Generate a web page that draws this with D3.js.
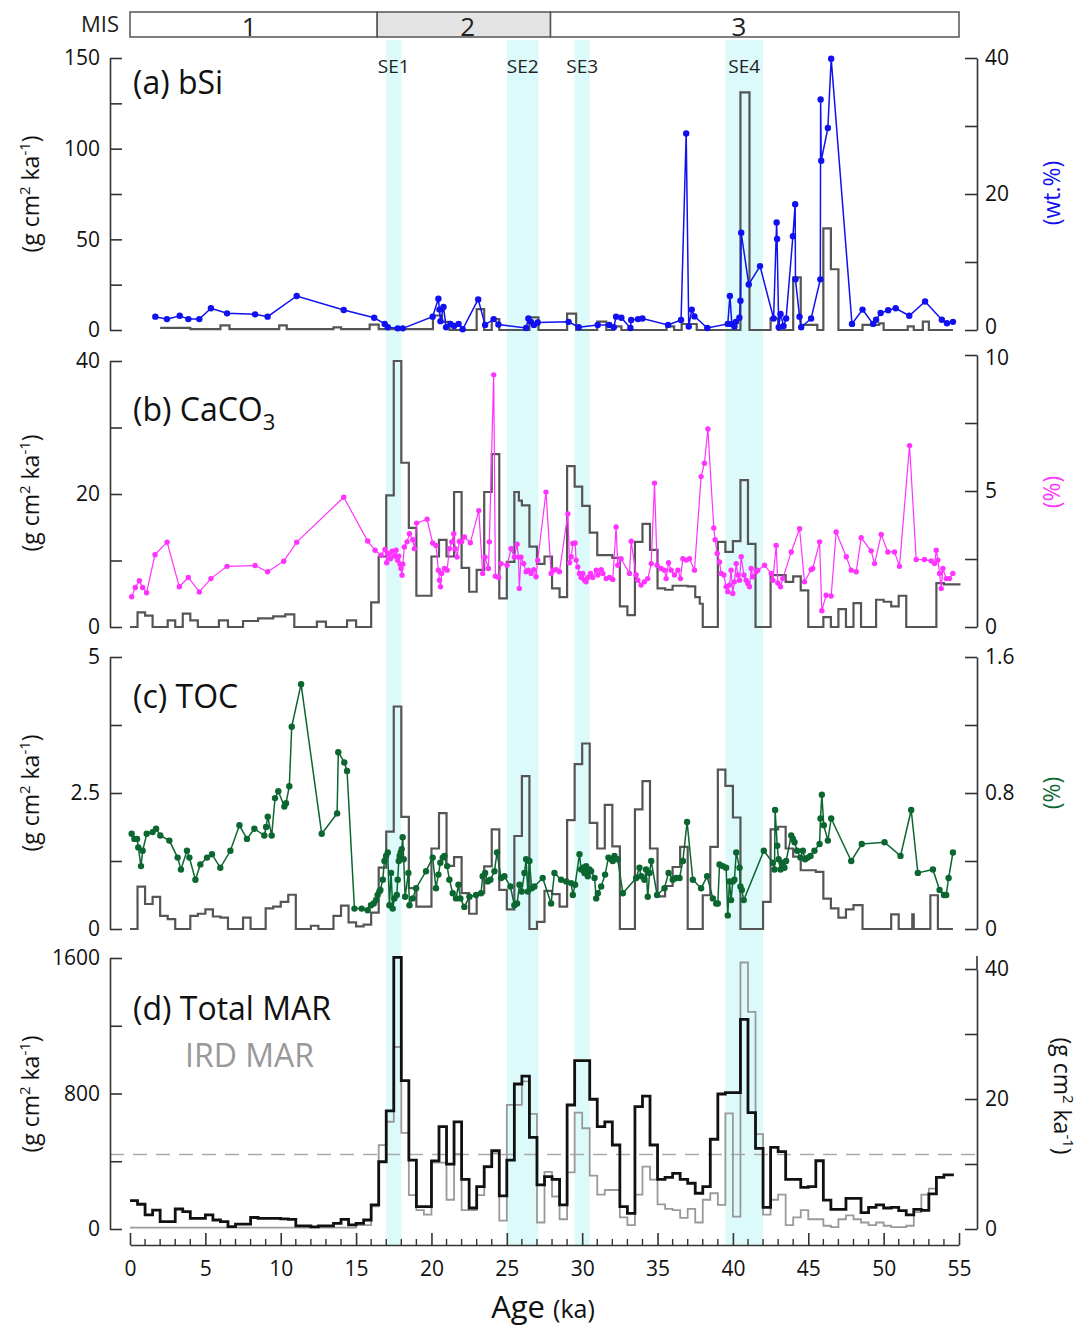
<!DOCTYPE html>
<html>
<head>
<meta charset="utf-8">
<script src="https://cdn.jsdelivr.net/npm/d3@7"></script>
<style>
body { margin: 0; background: #fff; }
text { font-family: "Open Sans", sans-serif; }
</style>
</head>
<body>
<svg id="chart" width="1088" height="1330"></svg>
<script>
// ---- data (age in ka) ----
// stage, start, end, where the number sits
var misStages = [["1", 0, 16.4, 7.9], ["2", 16.4, 27.9, 22.4], ["3", 27.9, 55, 40.4]]
var seEvents = [["SE1", 17.0, 18.0], ["SE2", 25.0, 27.1], ["SE3", 29.5, 30.5], ["SE4", 39.5, 42.0]]

var ageTicks = [0, 5, 10, 15, 20, 25, 30, 35, 40, 45, 50, 55]

// (a) bSi
var bsiMar = [[2.0,1.2],[4.0,0.5],[6.0,2.5],[6.6,0.5],[9.9,2.5],[10.4,0.5],[13.5,1.5],[14.0,0.5],[15.9,3],[16.5,0.5],[20.1,8],[20.7,4.5],[21.2,0],[23.0,11.5],[23.5,0],[24.0,6],[24.5,0],[26.5,7],[27.1,0],[29.0,9],[29.6,0],[31.0,4.6],[31.6,0],[32.1,2],[32.6,0],[35.6,2],[36.1,0],[36.6,3.3],[37.6,0],[40.5,131],[41.1,0],[42.5,6.4],[43.0,0],[44.0,29],[44.5,2.8],[45.6,0],[46.0,56],[46.5,33.5],[47.0,0],[48.6,2.8],[49.7,3.7],[50.0,0],[51.6,2],[52.0,0],[52.6,4.6],[53.0,0],[54.6,0]]
var bsiPct = [[1.68,1.96],[2.45,1.6],[3.3,2.1],[3.87,1.6],[4.6,1.6],[5.37,3.2],[6.44,2.45],[8.3,2.3],[9.13,1.96],[11.06,5.0],[14.18,2.94],[16.2,1.8],[16.9,0.9],[17.1,0.4],[17.76,0.24],[18.1,0.24],[20.08,1.96],[20.46,4.6],[20.53,3.0],[20.6,1.3],[20.8,3.4],[20.97,0.4],[21.26,0.9],[21.5,0.6],[21.8,0.9],[22.07,0.1],[23.1,4.5],[23.56,0.75],[24.13,1.6],[24.44,0.8],[26.28,0.3],[26.43,1.7],[26.6,1.2],[26.8,0.75],[27.05,1.1],[29.1,1.2],[29.77,0.4],[31.03,0.75],[31.8,0.73],[32.1,0.4],[32.25,1.96],[32.6,1.8],[33.2,0.3],[33.25,1.47],[33.7,1.6],[34.0,1.7],[35.7,0.75],[36.56,1.47],[36.9,28.9],[37.07,0.5],[37.27,3.0],[37.45,2.0],[38.3,0.3],[39.66,0.9],[39.8,5.0],[39.93,0.9],[40.1,0.5],[40.2,1.2],[40.43,1.8],[40.5,4.3],[40.55,14.3],[41.05,6.7],[41.8,9.4],[42.7,1.7],[42.9,15.8],[42.93,13.4],[43.04,0.4],[43.16,2.35],[43.36,0.6],[43.53,1.7],[43.98,13.8],[44.13,18.5],[44.15,7.45],[44.42,1.96],[44.53,0.4],[45.19,1.7],[45.8,7.45],[45.82,33.9],[45.86,24.9],[46.3,29.7],[46.52,39.9],[47.9,0.9],[48.6,3.0],[49.3,0.9],[49.5,1.5],[49.8,2.5],[50.3,2.9],[50.8,3.2],[51.7,2.1],[52.75,4.2],[53.86,1.5],[54.2,1.0],[54.6,1.2]]

// (b) CaCO3
var caco3Mar = [[0,0],[0.5,2.2],[1.0,1.7],[1.5,0],[2.5,1],[3.0,0],[3.5,2],[4.0,1],[4.5,0],[5.9,1],[6.5,0],[7.5,0.9],[8.5,1.3],[9.5,1.6],[10.3,1.9],[10.9,0],[12.4,0.8],[13.0,0],[14.4,1],[15.0,0],[16.0,3.7],[16.5,10.6],[17.0,19.8],[17.5,40],[18.0,24.7],[18.5,14.9],[19.0,4.7],[20.0,10.6],[20.5,13.1],[21.0,10.6],[21.5,20.3],[22.0,8.9],[22.5,5.3],[23.0,8.6],[23.5,20.3],[24.0,26],[24.5,4.3],[25.0,9.8],[25.5,20.3],[25.8,19],[26.0,18.3],[26.5,12.1],[27.0,9.5],[27.5,10.6],[28.0,5.8],[28.5,4.5],[29.0,24.2],[29.5,21.1],[30.0,18.2],[30.5,14.2],[31.0,10.8],[32.0,10.4],[32.5,3.1],[33.0,1.8],[33.5,12.8],[34.0,15.5],[34.5,11.6],[35.0,5.8],[35.5,5.6],[36.0,6.2],[37.0,6.1],[37.5,4.5],[37.8,3.5],[38.0,0],[39.0,12.8],[39.5,11.3],[40.0,12.9],[40.5,22.1],[41.0,12.5],[41.5,0],[42.5,7.8],[43.5,6.8],[44.0,7.6],[44.5,5.5],[45.0,0],[46.0,1.5],[46.5,0],[47.0,2.7],[47.5,0],[48.0,3.6],[48.5,0],[49.5,4.1],[50.0,3.8],[50.5,3.1],[51.0,4.7],[51.5,0],[53.5,6.6],[54.0,6.4],[55.1,6.4]]
var caco3Pct = [[0.11,1.11],[0.35,1.45],[0.62,1.7],[0.84,1.45],[1.1,1.26],[1.66,2.66],[2.46,3.12],[3.27,1.48],[3.87,1.82],[4.6,1.29],[5.37,1.78],[6.44,2.23],[8.3,2.26],[9.13,2.03],[10.2,2.42],[11.06,3.12],[14.18,4.77],[15.77,3.16],[16.26,2.82],[16.66,2.64],[16.92,2.85],[17.03,2.36],[17.14,2.70],[17.27,2.51],[17.39,2.79],[17.54,2.60],[17.65,2.82],[17.76,2.45],[17.83,2.60],[17.92,2.31],[17.98,2.15],[18.05,1.90],[18.1,2.31],[18.2,2.94],[18.38,3.13],[18.54,3.43],[18.76,3.21],[18.87,2.88],[19.02,3.82],[19.71,3.96],[20.08,3.09],[20.3,3.0],[20.46,2.09],[20.53,1.72],[20.6,1.48],[20.68,1.97],[20.86,2.15],[21.04,2.09],[21.19,2.88],[21.35,3.13],[21.48,3.43],[21.57,2.88],[21.7,2.57],[21.85,3.15],[22.0,3.13],[22.19,3.31],[22.58,3.10],[23.14,4.28],[23.4,1.97],[23.56,2.57],[23.78,2.15],[23.84,3.13],[24.13,9.27],[24.24,1.87],[24.46,1.82],[24.62,2.33],[25.02,2.27],[25.28,2.88],[25.5,2.57],[25.68,3.04],[25.77,2.57],[25.83,1.42],[25.94,2.57],[26.12,2.33],[26.28,2.03],[26.43,2.09],[26.61,1.97],[26.79,2.11],[26.94,1.85],[27.05,2.45],[27.6,4.96],[27.94,1.97],[28.1,2.09],[28.27,2.11],[28.49,2.03],[29.05,4.16],[29.16,2.36],[29.27,2.58],[29.38,3.07],[29.53,3.09],[29.6,2.46],[29.71,2.21],[29.82,1.97],[29.93,1.82],[30.04,1.97],[30.15,1.72],[30.26,1.66],[30.37,1.82],[30.55,1.97],[30.7,1.82],[30.93,2.09],[31.04,1.91],[31.26,2.11],[31.37,1.97],[31.59,1.78],[31.81,1.82],[32.03,1.75],[32.25,3.68],[32.36,2.27],[32.58,2.51],[33.14,1.97],[33.25,3.15],[33.58,1.91],[33.69,1.72],[33.91,1.54],[34.13,1.66],[34.35,1.78],[34.58,2.33],[34.8,5.29],[34.97,2.27],[35.24,2.15],[35.46,2.09],[35.57,1.78],[35.73,2.36],[35.9,2.09],[36.12,1.91],[36.35,2.09],[36.52,1.78],[36.68,2.51],[36.9,2.46],[37.12,2.51],[37.45,2.09],[37.89,5.53],[38.11,6.02],[38.34,7.28],[38.73,3.64],[38.82,3.21],[38.96,2.70],[39.11,2.39],[39.22,1.97],[39.4,1.91],[39.55,1.48],[39.66,1.30],[39.77,1.54],[39.88,2.09],[39.99,1.23],[40.1,1.66],[40.22,2.33],[40.33,1.91],[40.44,1.72],[40.55,2.58],[40.73,1.91],[40.88,1.72],[40.99,1.60],[41.1,1.48],[41.21,2.15],[41.32,1.85],[41.54,2.03],[41.65,2.09],[42.1,2.27],[42.54,1.97],[42.65,1.72],[42.87,3.0],[42.98,1.62],[43.16,1.48],[43.31,1.78],[43.87,2.76],[44.42,3.61],[44.75,1.66],[45.19,2.11],[45.3,2.15],[45.75,3.13],[45.9,0.60],[46.19,1.17],[46.52,1.14],[46.85,3.49],[47.52,2.58],[47.85,2.09],[48.18,2.03],[48.51,3.28],[49.17,2.80],[49.4,2.33],[49.84,3.40],[50.28,2.76],[50.72,2.76],[51.05,2.23],[51.72,6.67],[52.16,2.48],[52.71,2.48],[53.16,2.43],[53.38,2.33],[53.49,2.82],[53.6,2.46],[53.71,1.97],[53.82,1.42],[53.93,2.15],[54.15,1.78],[54.37,1.78],[54.59,1.97]]

// (c) TOC
var tocMar = [[0,0],[0.5,0.78],[1.0,0.46],[1.5,0.59],[2.0,0.24],[2.5,0.18],[3.0,0],[4.0,0.24],[4.5,0.28],[5.0,0.36],[5.5,0.23],[6.0,0.21],[6.5,0],[7.5,0.21],[8.0,0],[9.0,0.38],[9.5,0.41],[10.0,0.5],[10.5,0.63],[11.0,0],[12.0,0.06],[12.5,0],[13.5,0.24],[14.0,0.43],[14.5,0.12],[15.0,0.05],[15.5,0.08],[16.0,0.3],[16.5,1.13],[17.0,1.79],[17.5,4.09],[18.0,2.06],[18.5,0.75],[19.0,0.41],[20.0,1.48],[20.5,2.13],[21.0,1.16],[21.5,1.32],[22.0,0.66],[22.5,0.28],[23.0,0.66],[23.5,1.15],[24.0,1.83],[24.5,0.72],[25.0,0.36],[25.5,1.71],[26.0,2.81],[26.5,0],[27.0,0.13],[27.5,0.7],[28.0,0.64],[28.5,0.41],[29.0,2.0],[29.5,3.03],[30.0,3.41],[30.5,1.95],[31.0,1.48],[31.5,2.28],[32.0,1.52],[32.5,0],[33.5,2.2],[34.0,2.72],[34.5,1.48],[35.0,0.6],[35.5,0.79],[36.0,1.14],[36.5,1.51],[37.0,0],[38.0,0.62],[38.5,1.51],[39.0,2.93],[39.5,2.63],[40.0,2.05],[40.5,0],[42.0,0.5],[42.5,1.83],[43.0,1.88],[43.5,1.48],[44.0,1.33],[44.5,1.08],[45.5,1.05],[46.0,0.56],[46.5,0.38],[47.0,0.21],[47.5,0.36],[48.0,0.44],[48.6,0],[50.5,0.27],[51.0,0],[51.6,0],[51.9,0.27],[52.0,0],[53.1,0.62],[53.6,0],[54.6,0]]
var tocPct = [[0.11,0.56],[0.29,0.53],[0.47,0.53],[0.55,0.48],[0.73,0.37],[0.84,0.46],[1.11,0.56],[1.5,0.57],[1.73,0.59],[2.01,0.55],[2.61,0.52],[3.16,0.42],[3.38,0.35],[3.78,0.46],[3.94,0.42],[4.34,0.29],[4.67,0.38],[5.11,0.42],[5.44,0.44],[5.99,0.36],[6.66,0.46],[7.26,0.61],[7.76,0.53],[8.25,0.59],[8.91,0.55],[9.03,0.60],[9.14,0.66],[9.4,0.55],[9.62,0.77],[9.84,0.81],[10.24,0.72],[10.35,0.74],[10.57,0.84],[10.73,1.19],[11.35,1.44],[12.72,0.56],[13.74,0.68],[13.82,1.04],[14.22,0.98],[14.4,0.93],[14.89,0.12],[15.37,0.12],[15.77,0.11],[15.99,0.14],[16.17,0.15],[16.32,0.17],[16.43,0.2],[16.54,0.22],[16.61,0.23],[16.77,0.29],[16.88,0.40],[16.99,0.43],[17.1,0.45],[17.21,0.14],[17.32,0.33],[17.43,0.12],[17.54,0.18],[17.7,0.2],[17.76,0.29],[17.83,0.40],[17.89,0.43],[17.96,0.45],[18.03,0.47],[18.09,0.54],[18.16,0.41],[18.25,0.19],[18.47,0.33],[18.54,0.14],[18.76,0.18],[18.98,0.24],[19.64,0.34],[20.08,0.42],[20.3,0.24],[20.46,0.32],[20.59,0.39],[20.75,0.42],[20.86,0.43],[21.04,0.37],[21.19,0.29],[21.41,0.21],[21.63,0.18],[21.79,0.26],[21.92,0.18],[22.18,0.13],[22.52,0.19],[22.96,0.2],[23.29,0.21],[23.4,0.31],[23.56,0.33],[23.73,0.28],[23.91,0.29],[24.18,0.34],[24.35,0.45],[24.62,0.30],[24.84,0.31],[25.24,0.25],[25.5,0.14],[25.68,0.15],[25.84,0.26],[25.99,0.22],[26.17,0.33],[26.28,0.41],[26.39,0.22],[26.5,0.40],[26.65,0.24],[26.83,0.25],[27.38,0.30],[27.94,0.15],[28.16,0.33],[28.6,0.29],[28.94,0.28],[29.27,0.27],[29.38,0.2],[29.53,0.26],[29.82,0.44],[29.93,0.35],[30.04,0.36],[30.15,0.33],[30.26,0.37],[30.37,0.31],[30.48,0.35],[30.59,0.34],[30.82,0.30],[30.93,0.18],[31.04,0.21],[31.26,0.25],[31.52,0.32],[31.74,0.42],[31.92,0.41],[32.03,0.40],[32.14,0.43],[32.36,0.41],[32.7,0.21],[33.58,0.30],[33.8,0.36],[33.91,0.31],[34.13,0.29],[34.24,0.35],[34.35,0.19],[34.47,0.33],[34.58,0.40],[34.97,0.2],[35.46,0.24],[35.73,0.33],[36.01,0.29],[36.23,0.30],[36.46,0.30],[36.68,0.40],[36.96,0.63],[37.34,0.29],[37.89,0.24],[38.29,0.31],[38.67,0.18],[38.89,0.15],[39.0,0.15],[39.11,0.38],[39.33,0.37],[39.55,0.36],[39.66,0.08],[39.77,0.28],[39.88,0.17],[39.99,0.28],[40.1,0.29],[40.22,0.45],[40.44,0.36],[40.5,0.25],[40.59,0.23],[40.72,0.17],[42.05,0.46],[42.65,0.39],[42.76,0.35],[42.8,0.70],[42.94,0.49],[43.03,0.41],[43.16,0.35],[43.25,0.39],[43.42,0.36],[43.53,0.40],[43.87,0.55],[43.98,0.53],[44.09,0.51],[44.26,0.46],[44.48,0.42],[44.64,0.46],[44.79,0.41],[44.97,0.42],[45.15,0.43],[45.41,0.46],[45.75,0.50],[45.81,0.65],[45.9,0.79],[46.03,0.61],[46.3,0.52],[46.52,0.65],[47.85,0.40],[48.55,0.50],[50.06,0.51],[51.12,0.43],[51.83,0.70],[52.27,0.33],[53.27,0.35],[53.71,0.23],[54.0,0.2],[54.15,0.2],[54.31,0.30],[54.6,0.45]]

// (d) Total MAR (left axis) and IRD MAR (right axis)
var totalMar = [[0,167],[0.5,146],[1,83],[1.5,112],[2,43],[3,118],[3.5,102],[4,63],[5,83],[5.5,53],[6,43],[6.5,14],[7,29],[8,68],[8.5,63],[10,60],[10.5,57],[11,18],[12,12],[12.5,18],[13.5,33],[14,57],[14.5,24],[15,33],[15.5,53],[16,142],[16.5,397],[17,698],[17.5,1604],[18,876],[18.5,407],[19,132],[20,402],[20.5,604],[21,383],[21.5,633],[22,293],[22.5,124],[23,250],[23.5,368],[24,462],[24.5,195],[25,407],[25.5,856],[26,903],[26.5,541],[27,260],[27.5,309],[28,293],[28.5,142],[29,732],[29.5,994],[30.5,766],[31,604],[31.5,633],[32,496],[32.5,132],[33,92],[33.5,722],[34,785],[34.5,496],[35,293],[35.5,305],[36,329],[36.5,293],[37,270],[37.5,211],[38,250],[38.5,530],[39,797],[39.5,805],[40.5,1238],[41,687],[41.5,476],[42,128],[42.5,482],[43,457],[43.5,293],[44.5,246],[45,250],[45.5,403],[46,171],[46.5,116],[47.5,181],[48.5,97],[49,128],[49.5,142],[50,124],[50.5,128],[51,108],[51.5,83],[52,116],[52.5,110],[53,207],[53.5,305],[54,319],[54.66,319]]
var irdMar = [[0,0.2],[15,0.6],[16,3.5],[16.5,12.9],[17,16.5],[17.5,28],[18,14.8],[18.5,5.2],[19,2.9],[19.5,2.2],[20,10.2],[21,4.5],[21.5,11.5],[22,2.9],[23,5.2],[23.5,9.5],[24,11.6],[24.5,1.3],[25,19.1],[26,22.7],[26.5,17.7],[27,1.0],[27.5,8.8],[28,5.0],[28.5,1.5],[29,8.7],[29.5,17.9],[30,15.5],[30.5,8.2],[31,5.3],[31.5,6.0],[32.5,1.8],[33,0.6],[33.5,5.3],[34,9.6],[34.5,7.6],[35,3.8],[35.5,3.1],[36,2.9],[36.5,1.7],[37,3.1],[37.5,1.0],[38,4.5],[38.5,5.5],[39,3.7],[39.5,17.8],[40,1.9],[40.5,41],[41,33.4],[41.5,14.6],[42,2.2],[42.5,4.5],[43,5.3],[43.5,0.6],[44,1.8],[44.5,2.9],[45,1.5],[46,0.5],[46.5,0.3],[47,1.5],[47.5,2.1],[48,1.5],[48.5,1.0],[49,0.6],[49.5,1.0],[50,0.5],[50.5,0.3],[51.5,0.5],[52,2.6],[52.5,5.3],[53,6.2],[53.6,6.2]]
var totalMarMean = 440

// axis ticks and labels
var ticksA_L = [0,25,50,75,100,125,150], labelsA_L = [0,50,100,150]
var ticksA_R = [0,10,20,30,40], labelsA_R = [0,20,40]
var ticksB_L = [0,10,20,30,40], labelsB_L = [0,20,40]
var ticksB_R = [0,2.5,5,7.5,10], labelsB_R = [0,5,10]
var ticksC_L = [0,1.25,2.5,3.75,5], labelsC_L = [0,2.5,5]
var ticksC_R = [0,0.4,0.8,1.2,1.6], labelsC_R = [0,0.8,1.6]
var ticksD_L = [0,400,800,1200,1600], labelsD_L = [0,800,1600]
var ticksD_R = [0,10,20,30,40], labelsD_R = [0,20,40]

// ---- drawing ----
var svg = d3.select("#chart")
var axisL = 110, axisR = 977
var x = d3.scaleLinear().domain([0, 55]).range([130, 959])

var blue = "#1010f0", pink = "#ff33ff", green = "#0b6630"

// shaded stadial events
svg.append("g").selectAll("rect")
    .data(seEvents).enter().append("rect")
    .attr("x", function (d) { return x(d[1]) })
    .attr("width", function (d) { return x(d[2]) - x(d[1]) })
    .attr("y", 40).attr("height", 1205)
    .attr("fill", "#dcfafa")

svg.append("g").selectAll("text")
    .data(seEvents).enter().append("text")
    .attr("x", function (d) { return x((d[1] + d[2]) / 2) })
    .attr("y", 73)
    .attr("text-anchor", "middle")
    .style("font-size", "19px")
    .attr("fill", "#222")
    .text(function (d) { return d[0] })

// MIS bar
svg.append("text").attr("x", 119).attr("y", 32).attr("text-anchor", "end")
    .style("font-size", "22px").attr("fill", "#222").text("MIS")
var mis = svg.append("g")
mis.selectAll("rect").data(misStages).enter().append("rect")
    .attr("x", function (d) { return x(d[1]) })
    .attr("width", function (d) { return x(d[2]) - x(d[1]) })
    .attr("y", 12).attr("height", 25)
    .attr("fill", function (d) { return d[0] == "2" ? "#e4e4e4" : "#fff" })
    .attr("stroke", "#555").attr("stroke-width", 1.5)
mis.selectAll("text").data(misStages).enter().append("text")
    .attr("x", function (d) { return x(d[3]) })
    .attr("y", 36).attr("text-anchor", "middle")
    .style("font-size", "26px").attr("fill", "#222")
    .text(function (d) { return d[0] })

function yAxis(scale, ticks, labels, side, top) {
    var ax = side == "left" ? d3.axisLeft(scale) : d3.axisRight(scale)
    ax.tickValues(ticks).tickSize(-12).tickSizeOuter(0)
        .tickPadding(side == "left" ? 10 : 8)
        .tickFormat(function (d) { return labels.indexOf(d) >= 0 ? String(d) : "" })
    var g = svg.append("g")
        .attr("transform", "translate(" + (side == "left" ? axisL : axisR) + ",0)")
        .call(ax)
    g.selectAll("path, line").attr("stroke", "#333").attr("stroke-width", 1.6)
    g.selectAll("text").style("font-size", "21px").attr("fill", "#111")
        .style("font-family", "'Open Sans', sans-serif")
    if (top != null) {
        g.append("line").attr("x1", 0).attr("x2", 0)
            .attr("y1", scale.range()[1]).attr("y2", top)
            .attr("stroke", "#333").attr("stroke-width", 1.6)
    }
    return g
}

// nudge a tick label up or down so neighbouring panels' labels don't collide
function nudge(g, value, dy) {
    g.selectAll(".tick").filter(function (d) { return d === value })
        .select("text").attr("transform", "translate(0," + dy + ")")
}

function unitLabel(cx, cy, rot, color) {
    var t = svg.append("text")
        .attr("transform", "translate(" + cx + "," + cy + ") rotate(" + rot + ")")
        .attr("text-anchor", "middle").style("font-size", "23px").attr("fill", color)
    t.append("tspan").text("(g cm")
    t.append("tspan").attr("dy", -9).style("font-size", "15px").text("2")
    t.append("tspan").attr("dy", 9).text(" ka")
    t.append("tspan").attr("dy", -9).style("font-size", "15px").text("-1")
    t.append("tspan").attr("dy", 9).text(")")
}

function sideLabel(cx, cy, txt, color) {
    svg.append("text")
        .attr("transform", "translate(" + cx + "," + cy + ") rotate(-90)")
        .attr("text-anchor", "middle").style("font-size", "23px")
        .attr("fill", color).text(txt)
}

function stepLine(data, y, color, width) {
    var line = d3.line()
        .x(function (d) { return x(d[0]) })
        .y(function (d) { return y(d[1]) })
        .curve(d3.curveStepAfter)
    svg.append("path").datum(data)
        .attr("d", line).attr("fill", "none")
        .attr("stroke", color).attr("stroke-width", width)
        .attr("stroke-linejoin", "miter")
}

function dotLine(data, y, color, width, r) {
    var line = d3.line()
        .x(function (d) { return x(d[0]) })
        .y(function (d) { return y(d[1]) })
    var g = svg.append("g")
    g.append("path").datum(data)
        .attr("d", line).attr("fill", "none")
        .attr("stroke", color).attr("stroke-width", width)
    g.selectAll("circle").data(data).enter().append("circle")
        .attr("cx", function (d) { return x(d[0]) })
        .attr("cy", function (d) { return y(d[1]) })
        .attr("r", r).attr("fill", color)
}

function panelTitle(y, txt, sub) {
    var t = svg.append("text").attr("x", 133).attr("y", y)
        .style("font-size", "32px").attr("fill", "#111").text(txt)
    if (sub) {
        t.append("tspan").attr("dy", 9).style("font-size", "22px").text(sub)
    }
}

// panel (a)
var yA = d3.scaleLinear().domain([0, 150]).range([330, 58])
var yA2 = d3.scaleLinear().domain([0, 40]).range([330, 58])
stepLine(bsiMar, yA, "#555", 2.2)
dotLine(bsiPct, yA2, blue, 1.5, 3.2)
yAxis(yA, ticksA_L, labelsA_L, "left")
var gA2 = yAxis(yA2, ticksA_R, labelsA_R, "right")
nudge(gA2, 0, -3)
panelTitle(94, "(a) bSi")
unitLabel(39, 194, -90, "#111")
sideLabel(1060, 193, "(wt.%)", blue)

// panel (b)
var yB = d3.scaleLinear().domain([0, 40]).range([627, 361])
var yB2 = d3.scaleLinear().domain([0, 10]).range([627, 355])
stepLine(caco3Mar, yB, "#555", 2.2)
dotLine(caco3Pct, yB2, pink, 1.2, 2.7)
yAxis(yB, ticksB_L, labelsB_L, "left")
var gB2 = yAxis(yB2, ticksB_R, labelsB_R, "right")
nudge(gB2, 10, 3)
panelTitle(421, "(b) CaCO", "3")
unitLabel(39, 493, -90, "#111")
sideLabel(1060, 492, "(%)", pink)

// panel (c)
var yC = d3.scaleLinear().domain([0, 5]).range([929, 657])
var yC2 = d3.scaleLinear().domain([0, 1.6]).range([929, 657])
stepLine(tocMar, yC, "#555", 2.2)
dotLine(tocPct, yC2, green, 1.5, 3.2)
yAxis(yC, ticksC_L, labelsC_L, "left")
yAxis(yC2, ticksC_R, labelsC_R, "right")
panelTitle(708, "(c) TOC")
unitLabel(39, 793, -90, "#111")
sideLabel(1060, 793, "(%)", green)

// panel (d)
var yD = d3.scaleLinear().domain([0, 1600]).range([1229, 958])
var yD2 = d3.scaleLinear().domain([0, 40]).range([1229, 969])
svg.append("line")
    .attr("x1", axisL).attr("x2", axisR)
    .attr("y1", yD(totalMarMean)).attr("y2", yD(totalMarMean))
    .attr("stroke", "#aaa").attr("stroke-width", 1.5)
    .attr("stroke-dasharray", "14,9")
stepLine(irdMar, yD2, "#999", 1.8)
stepLine(totalMar, yD, "#111", 2.8)
yAxis(yD, ticksD_L, labelsD_L, "left")
yAxis(yD2, ticksD_R, labelsD_R, "right", 956)
panelTitle(1020, "(d) Total MAR")
svg.append("text").attr("x", 185).attr("y", 1067)
    .style("font-size", "32px").attr("fill", "#999").text("IRD MAR")
unitLabel(39, 1094, -90, "#111")
unitLabel(1054, 1096, 90, "#111")

// age axis
var xAxis = d3.axisBottom(x).tickValues(ageTicks).tickSize(-12).tickSizeOuter(0).tickPadding(16)
var gx = svg.append("g").attr("transform", "translate(0,1245)").call(xAxis)
gx.selectAll("path, line").attr("stroke", "#333").attr("stroke-width", 1.6)
gx.selectAll("text").style("font-size", "21px").attr("fill", "#111")
    .style("font-family", "'Open Sans', sans-serif")
var minorTicks = d3.range(0, 56).filter(function (d) { return d % 5 != 0 })
gx.selectAll(".minor").data(minorTicks).enter().append("line")
    .attr("class", "minor")
    .attr("x1", function (d) { return x(d) }).attr("x2", function (d) { return x(d) })
    .attr("y1", 0).attr("y2", -6)
    .attr("stroke", "#333").attr("stroke-width", 1.4)

var xt = svg.append("text").attr("x", 543).attr("y", 1318).attr("text-anchor", "middle")
    .style("font-size", "31px").attr("fill", "#111")
xt.append("tspan").text("Age ")
xt.append("tspan").style("font-size", "25px").text("(ka)")
</script>
</body>
</html>
